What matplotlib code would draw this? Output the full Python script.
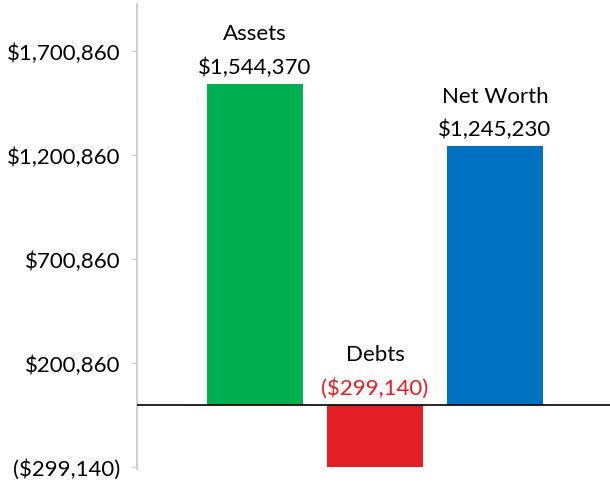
import matplotlib.pyplot as plt

plt.rcParams['font.family'] = ['Lato', 'DejaVu Sans']

# data
categories = ['Assets', 'Debts', 'Net Worth']
values = [1544370, -299140, 1245230]
colors = ['#00b050', '#e31e24', '#0070c0']
yticks = [-299140, 200860, 700860, 1200860, 1700860]


def money(v):
    s = '${:,.0f}'.format(abs(v))
    return '(' + s + ')' if v < 0 else s


fig = plt.figure(figsize=(6.1, 4.85), dpi=100)
ax = fig.add_axes([0.2246, 0.031, 0.7754, 0.9587])

x = range(len(categories))
ax.bar(x, values, width=0.8, color=colors, zorder=2)
ax.axhline(0, color='black', linewidth=1.2, zorder=3)

# labels above each bar (or above the zero line for negatives)
for i, (name, v) in enumerate(zip(categories, values)):
    base = max(v, 0)
    val_color = '#e31e24' if v < 0 else 'black'
    ax.annotate(money(v), (i, base), xytext=(0, 5), textcoords='offset points',
                ha='center', va='bottom', fontsize=16, color=val_color)
    ax.annotate(name, (i, base), xytext=(0, 29), textcoords='offset points',
                ha='center', va='bottom', fontsize=16, color='black')

ax.set_xlim(-0.983, 2.958)
ax.set_ylim(-308654, 1926923)
ax.set_yticks(yticks)
ax.set_yticklabels([money(t) for t in yticks], fontsize=16)
ax.set_xticks([])

for side in ['top', 'right', 'bottom']:
    ax.spines[side].set_visible(False)
ax.spines['left'].set_color('#d0d0d0')
ax.spines['left'].set_linewidth(1.5)
ax.tick_params(axis='y', length=4, color='#d0d0d0', pad=8)

fig.savefig('out.png', dpi=100)
